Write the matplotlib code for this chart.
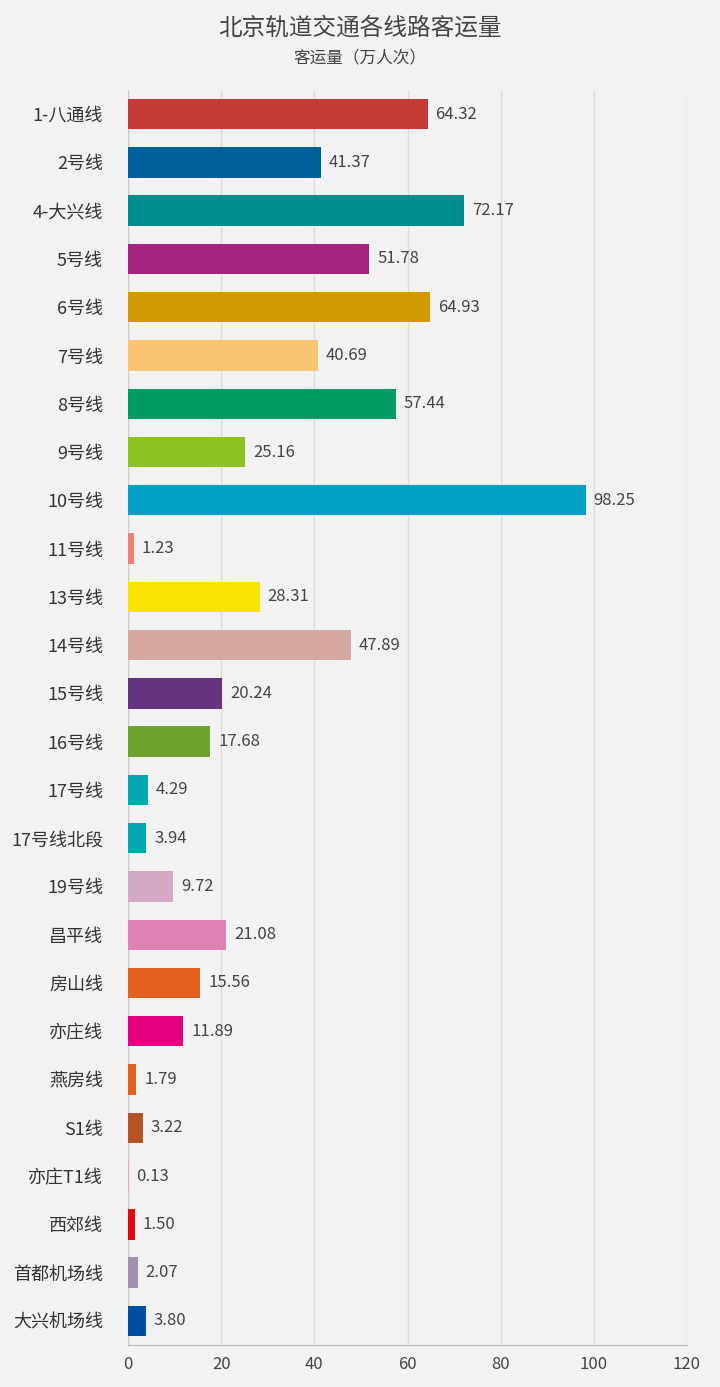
import matplotlib.pyplot as plt

plt.rcParams['font.family'] = ['Noto Sans CJK SC', 'DejaVu Sans']

lines = ["1-八通线", "2号线", "4-大兴线", "5号线", "6号线", "7号线", "8号线", "9号线",
         "10号线", "11号线", "13号线", "14号线", "15号线", "16号线", "17号线", "17号线北段",
         "19号线", "昌平线", "房山线", "亦庄线", "燕房线", "S1线", "亦庄T1线", "西郊线",
         "首都机场线", "大兴机场线"]
values = [64.32, 41.37, 72.17, 51.78, 64.93, 40.69, 57.44, 25.16, 98.25, 1.23, 28.31,
          47.89, 20.24, 17.68, 4.29, 3.94, 9.72, 21.08, 15.56, 11.89, 1.79, 3.22, 0.13,
          1.50, 2.07, 3.80]
colors = ["#c23a33", "#005f9a", "#008d8c", "#a5247e", "#d29a00", "#f8c672", "#009b62",
          "#8cc220", "#009dc5", "#f07e72", "#f7e400", "#d5a7a1", "#66337f", "#6fa12f",
          "#00a8ae", "#00a8ae", "#d4a8c4", "#de82b5", "#e36020", "#e4007f", "#e46022",
          "#b35425", "#e8a8b0", "#e60012", "#a290b0", "#004ea2"]

bg = "#f2f2f2"
fig = plt.figure(figsize=(7.2, 13.87), dpi=100, facecolor=bg)
ax = fig.add_axes([128/720, 1-1345/1387, 559/720, (1345-90)/1387], facecolor=bg)

y = list(range(len(lines)))
ax.barh(y, values, height=0.63, color=colors, zorder=3)
for yi, v in zip(y, values):
    ax.text(v + 1.7, yi, f"{v:.2f}", va="center", ha="left", fontsize=12, color="#444444")

ax.set_ylim(len(lines) - 0.5, -0.5)
ax.set_xlim(0, 120)
ax.set_xticks(range(0, 121, 20))
ax.set_yticks(y)
ax.set_yticklabels(lines, fontsize=13, color="#333333")
ax.tick_params(axis="x", labelsize=12, colors="#444444", length=0, pad=8)
ax.tick_params(axis="y", length=0, pad=18)
ax.grid(axis="x", color="#dcdcdc", linewidth=1, zorder=0)
for s in ["top", "right", "left"]:
    ax.spines[s].set_visible(False)
ax.spines["bottom"].set_color("#bbbbbb")
ax.axvline(0, color="#cccccc", linewidth=1, zorder=2)

fig.text(0.5, 1-28/1387, "北京轨道交通各线路客运量", ha="center", va="center", fontsize=17, color="#444444")
fig.text(0.5, 1-58/1387, "客运量（万人次）", ha="center", va="center", fontsize=12, color="#444444")

fig.savefig("out.png", dpi=100, facecolor=bg)
